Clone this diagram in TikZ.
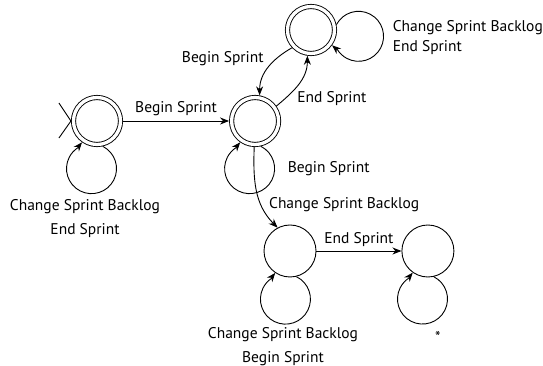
\documentclass[tikz,border=0pt]{standalone}
\usepackage{fontspec}
\setmainfont{PT Sans}
\usetikzlibrary{positioning,calc,arrows.meta}

\tikzset{
  state/.style={circle, draw, minimum size=52pt, inner sep=0pt, outer sep=.45pt},
  accept/.style={state, double, double distance=3.3pt, minimum size=47pt, outer sep=2.55pt},
  lbl/.style={font=\fontsize{15.5}{23.5}\selectfont, align=center},
}

\begin{document}
\begin{tikzpicture}[x=1pt, y=1pt, line width=.9pt, >={Stealth[length=9pt,width=7pt]}, node distance=106pt]
    \useasboundingbox (0,0) rectangle (543,366);

    % states
    \node [accept] (start) at (97,245) {};
    \node [accept, right=of start] (sprint) {};
    \node [accept] (closed) at (311,336) {};
    \node [state] (backlog) at (290,115) {};
    \node [state, right=85pt of backlog] (other) {};

    % start marker
    \draw ([shift={(-12,18)}]start.west) -- (start.west) -- ([shift={(-12,-17)}]start.west);

    % transitions
    \draw [->] (start) -- node [lbl, above=1pt] {Begin Sprint} (sprint);
    \draw [->] (sprint.35) to[out=40, in=-90] node [lbl, right=8pt, pos=.18] {End Sprint} (closed.-98);
    \draw [->] (closed.-137) to[out=-150, in=90] node [lbl, left=9pt, pos=.3] {Begin Sprint} (sprint.80);
    \draw [->] (sprint.-92) to[out=-92, in=135] node [lbl, right=4pt, pos=.68] {Change Sprint Backlog} (backlog.118);
    \draw [->] (backlog) -- node [lbl, above=1pt] {End Sprint} (other);

    % self loops: a circle of 25pt touching the state, bent into it at the tip
    \draw [->] (start.-77) arc[start angle=63, end angle=-237, radius=25pt] to[out=33, in=-130] (start.-125);
    \draw [->] (sprint.-77) arc[start angle=63, end angle=-237, radius=25pt] to[out=33, in=-130] (sprint.-125);
    \draw [->] (closed.12) arc[start angle=152, end angle=-148, radius=25pt] to[out=122, in=-41] (closed.-36);
    \draw [->] (backlog.-76) arc[start angle=64, end angle=-236, radius=25pt] to[out=34, in=-129] (backlog.-124);
    \draw [->] (other.-77) arc[start angle=63, end angle=-237, radius=25pt] to[out=33, in=-130] (other.-125);

    % loop labels
    \node [lbl, below=49pt of start, xshift=-12pt] (startlbl) {Change Sprint Backlog\\End Sprint};
    \node [lbl, anchor=west] (sprintlbl) at ($(sprint)+(29,-48)$) {Begin Sprint};
    \node [lbl, anchor=west, align=left] (closedlbl) at ($(closed)+(78,-8)$) {Change Sprint Backlog\\[-3.5pt]End Sprint};
    \node [lbl, anchor=north] (backloglbl) at ($(backlog)+(-7,-73)$) {Change Sprint Backlog\\Begin Sprint};
    \node [lbl] (otherlbl) at ($(other)+(10,-86)$) {*};
\end{tikzpicture}
\end{document}
